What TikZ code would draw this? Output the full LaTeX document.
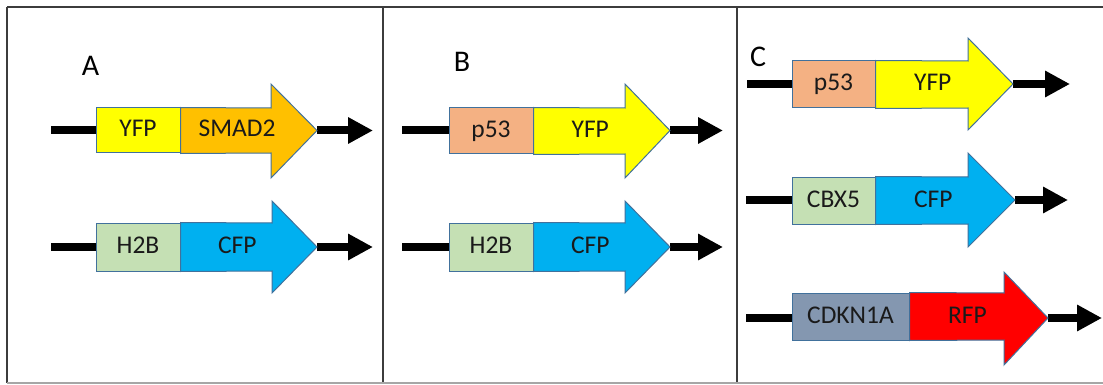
\documentclass[tikz,border=0pt]{standalone}
\usepackage{fontspec}
\setmainfont{Carlito}
\usetikzlibrary{arrows.meta}

\definecolor{yfp}{HTML}{FFFF00}
\definecolor{smad}{HTML}{FFC000}
\definecolor{ptf}{HTML}{F4B183}
\definecolor{histone}{HTML}{C5E0B4}
\definecolor{cfp}{HTML}{00B0F0}
\definecolor{cdkn}{HTML}{8497B0}
\definecolor{rfp}{HTML}{FF0000}
\definecolor{edge}{HTML}{41719C}
\definecolor{ink}{HTML}{1A1A1A}
\definecolor{frame}{HTML}{3C3C3C}
\definecolor{lowframe}{HTML}{A6A6A6}

\tikzset{
  part/.style={draw=edge, line width=1pt, inner sep=0pt, text=ink,
               font=\fontsize{25.5}{25.5}\selectfont,
               text height=16pt, text depth=3pt},
  dna/.style={line width=8pt, black},
  dnaarrow/.style={dna, -{Triangle[length=25pt, width=25pt]}},
  panellabel/.style={text=black, font=\fontsize{30}{30}\selectfont, inner sep=0pt,
                     text height=19pt, text depth=0pt},
  frameline/.style={draw=frame, line width=1.6pt},
}

\begin{document}
\begin{tikzpicture}[x=1pt, y=-1pt]
\useasboundingbox (0,0) rectangle (1103,385);
\fill[white] (0,0) rectangle (1103,385);

% panel frame
\draw[frameline] (7,7) -- (1103,7);
\draw[frameline] (7,7) -- (7,383);
\draw[frameline] (383,7) -- (383,383);
\draw[frameline] (737,7) -- (737,383);
\draw[draw=lowframe, line width=1.4pt] (7,383) -- (1103,383);

% panel letters
\node[panellabel] (lblA) at (90.5,66) {A};
\node[panellabel] (lblB) at (462,62) {B};
\node[panellabel] (lblC) at (758,57) {C};

% fusion constructs:
% name / line start / box left / junction / head base / tip / line end /
% axis y / box top / box bottom / head top / head bottom / tag / tag colour / protein / protein colour
\foreach \nm/\xs/\xb/\xd/\xh/\xt/\xe/\yc/\ybt/\ybb/\yht/\yhb/\tagtext/\tagcol/\fptext/\fpcol in {
  a1/51/96/180/271/317/373/130.5/108/153/84/178/YFP/yfp/SMAD2/smad,
  a2/51/96/180/272/317/373/247/223/271/201/293/H2B/histone/CFP/cfp,
  b1/402/449/533/625/670/723/130.5/108/154/84/178/p53/ptf/YFP/yfp,
  b2/402/449/533/625/670/723/247/223/271/201/293/H2B/histone/CFP/cfp,
  c1/747/792/875/968/1013/1070/84/61/108/38/130/p53/ptf/YFP/yfp,
  c2/746/792/875/968/1015/1068/200/177/224/153/247/CBX5/histone/CFP/cfp,
  c3/746/792/909/1004/1048/1102/318/293/340/272/365/CDKN1A/cdkn/RFP/rfp%
}{
  \coordinate (\nm-start) at (\xs,\yc);
  \coordinate (\nm-tip) at (\xt,\yc);
  \coordinate (\nm-end) at (\xe,\yc);
  % DNA backbone
  \draw[dna] (\nm-start) -- (\xb,\yc);
  \draw[dnaarrow] (\nm-tip) -- (\nm-end);
  % tag box
  \node[part, fill=\tagcol, minimum width={(\xd-\xb)*1pt}, minimum height={(\ybb-\ybt)*1pt}]
    (\nm-box) at ({(\xb+\xd)/2},{(\ybt+\ybb)/2}) {\tagtext};
  % fluorescent protein block arrow
  \draw[part, fill=\fpcol] (\nm-box.north east) -- (\xh,\ybt) -- (\xh,\yht) -- (\nm-tip)
    -- (\xh,\yhb) -- (\xh,\ybb) -- (\nm-box.south east) -- cycle;
  \node[part, draw=none] (\nm-fp) at ({0.5*\xd+0.25*\xh+0.25*\xt},{(\ybt+\ybb)/2}) {\fptext};
}
\end{tikzpicture}
\end{document}
